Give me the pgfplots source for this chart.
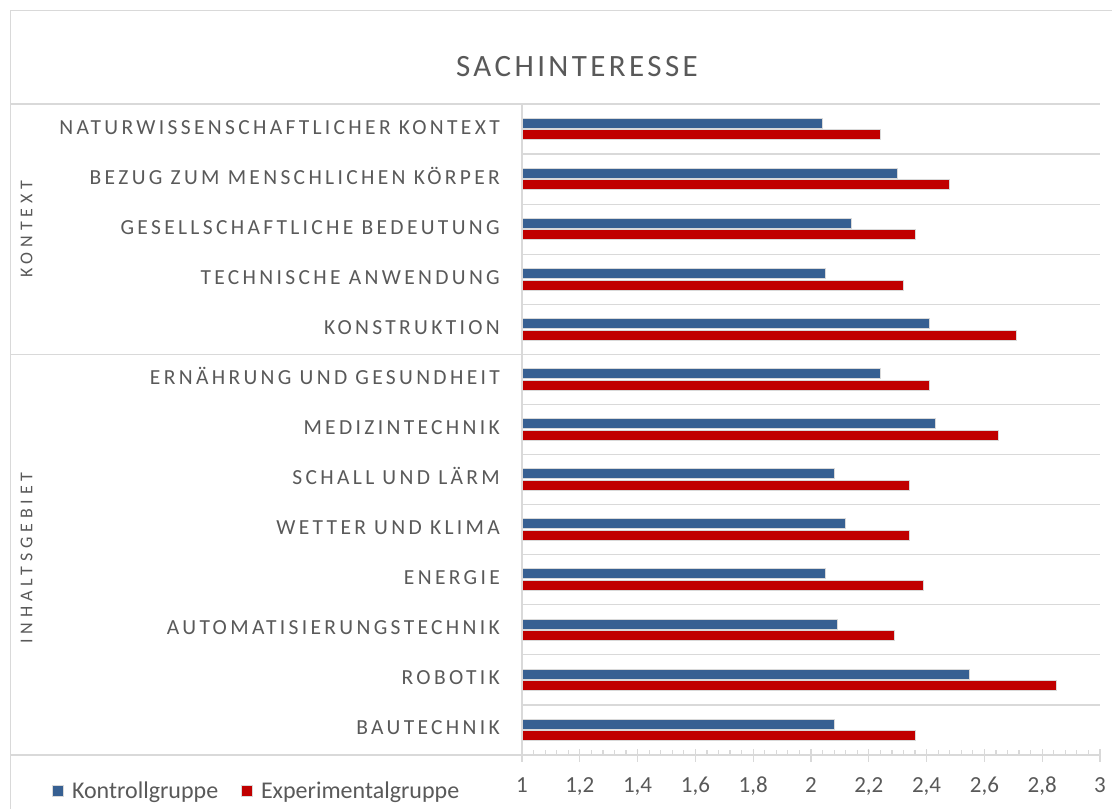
\documentclass[border=0pt]{standalone}
\usepackage{fontspec}
\setmainfont{Carlito}
\newfontfamily\catfont[LetterSpace=15.5]{Carlito}
\newfontfamily\grpfont[LetterSpace=27]{Carlito}
\newfontfamily\titlefont[LetterSpace=11]{Carlito}
\usepackage{pgfplots}
\pgfplotsset{compat=1.18}
\definecolor{txt}{HTML}{595959}
\definecolor{ln}{HTML}{D9D9D9}
\definecolor{kblue}{HTML}{376092}
\definecolor{ered}{HTML}{C00000}
\begin{document}
\begin{tikzpicture}
\useasboundingbox (0bp,0bp) rectangle (1112bp,809bp);
% chart border
\draw[ln, line width=1.2bp] (10.5bp,0bp) -- (10.5bp,798.5bp) -- (1112bp,798.5bp);
% label area separators
\draw[ln, line width=1.2bp] (10.5bp,705bp) -- (1100bp,705bp);
\draw[ln, line width=1.2bp] (10.5bp,454.6bp) -- (522bp,454.6bp);
\draw[ln, line width=1.2bp] (10.5bp,54bp) -- (522bp,54bp);
\node[text=txt, font=\titlefont\fontsize{31bp}{36bp}\selectfont, anchor=base, inner sep=0pt] at (577bp,732.3bp) {SACHINTERESSE};
\node[text=txt, font=\grpfont\fontsize{18bp}{22bp}\selectfont, rotate=90, inner sep=0pt] at (26.5bp,580bp) {KONTEXT};
\node[text=txt, font=\grpfont\fontsize{18bp}{22bp}\selectfont, rotate=90, inner sep=0pt] at (26.5bp,251bp) {INHALTSGEBIET};
\begin{axis}[
  at={(522bp,54bp)}, anchor=south west,
  scale only axis, width=578bp, height=651bp,
  xbar, bar width=10bp,
  xmin=1, xmax=3, ymin=-0.5, ymax=12.5,
  y dir=reverse,
  axis lines*=left,
  axis line style={ln, line width=1.2bp},
  xtick={1,1.2,1.4,1.6,1.8,2,2.2,2.4,2.6,2.8,3},
  minor x tick num=4,
  tick align=center,
  major tick length=13bp,
  minor tick length=5bp,
  xtick style={ln, line width=1.2bp},
  minor x tick style={ln, line width=1.2bp, yshift=2.5bp},
  ytick={0,1,2,3,4,5,6,7,8,9,10,11,12},
  yticklabels={NATURWISSENSCHAFTLICHER KONTEXT,BEZUG ZUM MENSCHLICHEN KÖRPER,GESELLSCHAFTLICHE BEDEUTUNG,TECHNISCHE ANWENDUNG,KONSTRUKTION,ERNÄHRUNG UND GESUNDHEIT,MEDIZINTECHNIK,SCHALL UND LÄRM,WETTER UND KLIMA,ENERGIE,AUTOMATISIERUNGSTECHNIK,ROBOTIK,BAUTECHNIK},
  ytick style={draw=none},
  minor ytick={-0.5,0.5,1.5,2.5,3.5,4.5,5.5,6.5,7.5,8.5,9.5,10.5,11.5,12.5},
  minor y tick style={draw=none},
  yminorgrids=true,
  minor grid style={ln, line width=1.2bp},
  /pgf/number format/assume math mode=true,
  /pgf/number format/use comma,
  xticklabel style={font=\fontsize{23bp}{27bp}\selectfont, text=txt, anchor=base, yshift=-31bp},
  yticklabel style={font=\catfont\fontsize{21.5bp}{26bp}\selectfont, text=txt, anchor=base east, inner sep=0pt, xshift=-15.5bp, yshift=-5bp},
  legend columns=2,
  legend style={draw=none, fill=none, at={(axis description cs:-0.8131,-0.0553)}, anchor=west,
    font=\fontsize{24bp}{28bp}\selectfont, text=txt, inner sep=0pt,
    /tikz/every odd column/.append style={column sep=6bp},
    /tikz/every even column/.append style={column sep=21bp}},
  legend image code/.code={\filldraw[#1, draw=ln, line width=0.8bp] (0bp,-5.5bp) rectangle (11bp,5.5bp);},
]
\addplot[fill=kblue, draw=ln, line width=1bp, bar shift=5.75bp] coordinates {
(2.04,0) (2.30,1) (2.14,2) (2.05,3) (2.41,4) (2.24,5) (2.43,6) (2.08,7) (2.12,8) (2.05,9) (2.09,10) (2.55,11) (2.08,12)};
\addlegendentry{Kontrollgruppe}
\addplot[fill=ered, draw=ln, line width=1bp, bar shift=-5.75bp] coordinates {
(2.24,0) (2.48,1) (2.36,2) (2.32,3) (2.71,4) (2.41,5) (2.65,6) (2.34,7) (2.34,8) (2.39,9) (2.29,10) (2.85,11) (2.36,12)};
\addlegendentry{Experimentalgruppe}
\end{axis}
\end{tikzpicture}
\end{document}
